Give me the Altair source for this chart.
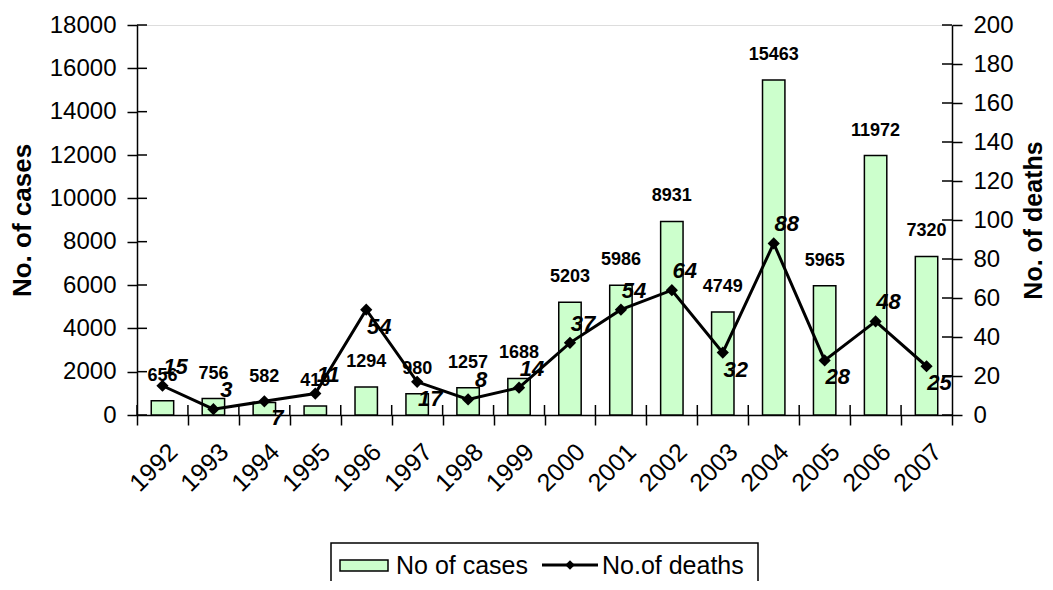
import altair as alt
import pandas as pd

years = ["1992", "1993", "1994", "1995", "1996", "1997", "1998", "1999",
         "2000", "2001", "2002", "2003", "2004", "2005", "2006", "2007"]
cases = [656, 756, 582, 410, 1294, 980, 1257, 1688, 5203, 5986, 8931, 4749,
         15463, 5965, 11972, 7320]
deaths = [15, 3, 7, 11, 54, 17, 8, 14, 37, 54, 64, 32, 88, 28, 48, 25]
below_label_years = ["1994", "1996", "1997", "2003", "2005", "2007"]
case_ticks = [0, 2000, 4000, 6000, 8000, 10000, 12000, 14000, 16000, 18000]
death_ticks = [0, 20, 40, 60, 80, 100, 120, 140, 160, 180, 200]

FONT = "Liberation Sans"

df = pd.DataFrame({"year": years, "cases": cases, "deaths": deaths})
df["below"] = df["year"].isin(below_label_years)
ct = pd.DataFrame({"v": case_ticks})
dt = pd.DataFrame({"v": death_ticks})
one = pd.DataFrame({"a": [0]})

xenc = alt.X(
    "year:N", sort=years,
    scale=alt.Scale(paddingInner=0, paddingOuter=0),
    axis=alt.Axis(title=None, labelAngle=315, labelFontSize=25, labelPadding=14,
                  labelOffset=2,
                  tickSize=10, tickBand="extent", labelFont=FONT, labelColor="black",
                  domainColor="black", domainWidth=1.5, tickColor="black", tickWidth=1.5),
)
yscale_c = alt.Scale(domain=[0, 18000], nice=False)
yscale_d = alt.Scale(domain=[0, 200], nice=False)

left_axis = alt.Axis(title="No. of cases", values=case_ticks, format="d", orient="left",
                     labelFontSize=24, labelFont=FONT, labelColor="black", labelPadding=11,
                     tickSize=10, tickColor="black", tickWidth=1.5,
                     domainColor="black", domainWidth=1.5, grid=False,
                     titleFont=FONT, titleFontSize=26, titleFontWeight="bold",
                     titleColor="black", titlePadding=14)
right_axis = alt.Axis(title="No. of deaths", values=death_ticks, format="d", orient="right",
                      labelFontSize=24, labelFont=FONT, labelColor="black", labelPadding=11,
                      tickSize=10, tickColor="black", tickWidth=1.5,
                      domainColor="black", domainWidth=1.5, grid=False,
                      titleFont=FONT, titleFontSize=25, titleFontWeight="bold",
                      titleColor="black", titlePadding=8, titleAngle=270,
                      titleBaseline="top")

base = alt.Chart(df)

bars = base.mark_bar(fill="#CCFFCC", stroke="black", strokeWidth=1.5,
                     width=alt.RelativeBandSize(0.44)).encode(
    x=xenc,
    y=alt.Y("cases:Q", scale=yscale_c, axis=left_axis),
)
case_labels = base.mark_text(font=FONT, fontWeight="bold", fontSize=18, color="black",
                             baseline="middle", dy=-25).encode(
    x=alt.X("year:N", sort=years),
    y=alt.Y("cases:Q", scale=yscale_c, axis=left_axis),
    text=alt.Text("cases:Q", format="d"),
)
left_inner_ticks = alt.Chart(ct).mark_rule(color="black", strokeWidth=1.5).encode(
    y=alt.Y("v:Q", scale=yscale_c, axis=left_axis),
    x=alt.value(0), x2=alt.value(10),
)
x_inner_ticks = base.mark_rule(color="black", strokeWidth=1.5).encode(
    x=alt.X("year:N", sort=years, bandPosition=0),
    y=alt.value(380), y2=alt.value(390),
)

# Legend (drawn manually)
leg_box = alt.Chart(one).mark_rect(fill="white", fillOpacity=0, stroke="black", strokeWidth=1.5).encode(
    x=alt.value(194), x2=alt.value(621), y=alt.value(518), y2=alt.value(600))
leg_rect = alt.Chart(one).mark_rect(fill="#CCFFCC", stroke="black", strokeWidth=1.5).encode(
    x=alt.value(203), x2=alt.value(251), y=alt.value(535), y2=alt.value(546))
leg_t1 = alt.Chart(one).mark_text(text="No of cases", font=FONT, fontSize=25, align="left",
                                  baseline="middle", color="black").encode(
    x=alt.value(259), y=alt.value(541))
leg_line = alt.Chart(one).mark_rule(color="black", strokeWidth=3).encode(
    x=alt.value(405), x2=alt.value(461), y=alt.value(540))
leg_pt = alt.Chart(one).mark_point(shape="diamond", filled=True, color="black", size=90, opacity=1).encode(
    x=alt.value(433), y=alt.value(540))
leg_t2 = alt.Chart(one).mark_text(text="No.of deaths", font=FONT, fontSize=25, align="left",
                                  baseline="middle", color="black").encode(
    x=alt.value(465), y=alt.value(541))

left_layer = alt.layer(bars, case_labels, left_inner_ticks, x_inner_ticks,
                       leg_box, leg_rect, leg_t1, leg_line, leg_pt, leg_t2)

line = base.mark_line(color="black", strokeWidth=3).encode(
    x=alt.X("year:N", sort=years),
    y=alt.Y("deaths:Q", scale=yscale_d, axis=right_axis),
)
points = base.mark_point(shape="diamond", filled=True, color="black", size=150, opacity=1).encode(
    x=alt.X("year:N", sort=years),
    y=alt.Y("deaths:Q", scale=yscale_d, axis=right_axis),
)
label_style = dict(font=FONT, fontWeight="bold", fontStyle="italic", fontSize=22,
                   color="black", baseline="middle", align="center", dx=13)
label_enc = dict(
    x=alt.X("year:N", sort=years),
    y=alt.Y("deaths:Q", scale=yscale_d, axis=right_axis),
    text=alt.Text("deaths:Q", format="d"),
)
death_labels_above = base.transform_filter("!datum.below").mark_text(
    dy=-19, **label_style).encode(**label_enc)
death_labels_below = base.transform_filter("datum.below").mark_text(
    dy=17, **label_style).encode(**label_enc)
right_inner_ticks = alt.Chart(dt).mark_rule(color="black", strokeWidth=1.5).encode(
    y=alt.Y("v:Q", scale=yscale_d, axis=right_axis),
    x=alt.value(805), x2=alt.value(815),
)

right_layer = alt.layer(line, points, death_labels_above, death_labels_below,
                        right_inner_ticks)

chart = alt.layer(left_layer, right_layer).resolve_scale(y="independent").properties(
    width=815, height=390,
    autosize=alt.AutoSizeParams(type="none"),
    padding={"left": 129, "top": 17, "right": 93, "bottom": 166},
).configure_view(stroke="#808080", strokeWidth=2).configure(background="white")

chart.save("out.html", embed_options={"renderer": "svg", "actions": False})
